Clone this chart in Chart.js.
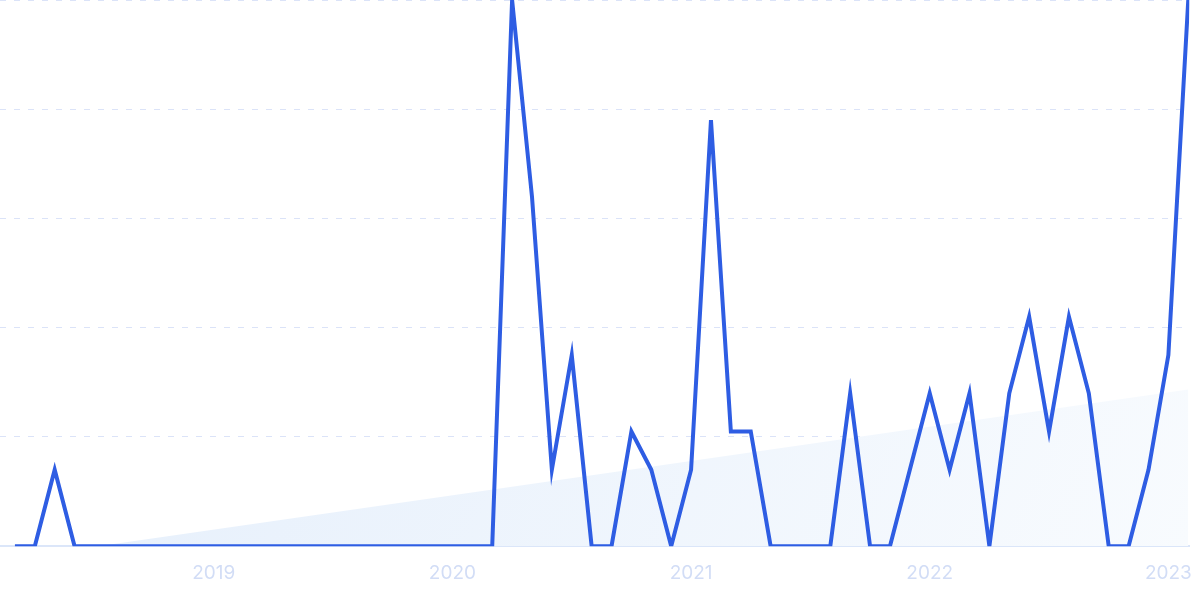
<!DOCTYPE html>
<html>
<head>
<meta charset="utf-8">
<script src="https://cdn.jsdelivr.net/npm/chart.js@4/dist/chart.umd.min.js"></script>
<style>
  html, body { margin: 0; padding: 0; background: #fff; }
  #wrap { width: 1200px; height: 599px; }
</style>
</head>
<body>
<div id="wrap"><canvas id="myChart"></canvas></div>
<script>
// monthly values, Mar 2018 .. Feb 2023
const months = [
  '2018-03','2018-04','2018-05','2018-06','2018-07','2018-08','2018-09','2018-10','2018-11','2018-12',
  '2019-01','2019-02','2019-03','2019-04','2019-05','2019-06','2019-07','2019-08','2019-09','2019-10','2019-11','2019-12',
  '2020-01','2020-02','2020-03','2020-04','2020-05','2020-06','2020-07','2020-08','2020-09','2020-10','2020-11','2020-12',
  '2021-01','2021-02','2021-03','2021-04','2021-05','2021-06','2021-07','2021-08','2021-09','2021-10','2021-11','2021-12',
  '2022-01','2022-02','2022-03','2022-04','2022-05','2022-06','2022-07','2022-08','2022-09','2022-10','2022-11','2022-12',
  '2023-01','2023-02'
];
const values = [
  0, 0, 14, 0, 0, 0, 0, 0, 0, 0,
  0, 0, 0, 0, 0, 0, 0, 0, 0, 0, 0, 0,
  0, 0, 0, 100, 64, 14, 35, 0, 0, 21, 14, 0,
  14, 78, 21, 21, 0, 0, 0, 0, 28, 0, 0, 14,
  28, 14, 28, 0, 28, 42, 21, 42, 28, 0, 0, 14,
  35, 100
];
// trend line (start / end)
const trendMonths = ['2018-03', '2023-02'];
const trendValues = [-2.2, 28.7];
const yearTicks = ['2019', '2020', '2021', '2022', '2023'];

// month string -> months since Jan 2018
function monthIndex(m) {
  const p = m.split('-');
  return (parseInt(p[0]) - 2018) * 12 + parseInt(p[1]) - 1;
}

const mainData = months.map((m, i) => ({ x: monthIndex(m), y: values[i] }));
const trendData = trendMonths.map((m, i) => ({ x: monthIndex(m), y: trendValues[i] }));

const ctx = document.getElementById('myChart').getContext('2d');

function trendFill(context) {
  const area = context.chart.chartArea;
  if (!area) return 'rgba(228,239,252,0.8)';
  const g = context.chart.ctx.createLinearGradient(area.left, area.top, area.right, area.bottom);
  g.addColorStop(0, '#e2edfb');
  g.addColorStop(1, '#f8fbfe');
  return g;
}

new Chart(ctx, {
  type: 'line',
  data: {
    datasets: [{
      data: mainData,
      borderColor: '#2e5de3',
      borderWidth: 4,
      pointRadius: 0,
      tension: 0,
      fill: false,
      order: 0
    }, {
      data: trendData,
      borderWidth: 0,
      borderColor: 'rgba(0,0,0,0)',
      backgroundColor: trendFill,
      pointRadius: 0,
      fill: 'start',
      order: 1
    }]
  },
  options: {
    responsive: true,
    maintainAspectRatio: false,
    animation: false,
    layout: { padding: { left: 0, right: 10, top: 0, bottom: 6 } },
    plugins: {
      legend: { display: false },
      tooltip: { enabled: false }
    },
    scales: {
      x: {
        type: 'linear',
        min: 1.25,
        max: 61.05,
        afterBuildTicks: (scale) => {
          scale.ticks = yearTicks.map(y => ({ value: (parseInt(y) - 2018) * 12 }));
        },
        ticks: {
          autoSkip: false,
          maxRotation: 0,
          color: '#d2ddf6',
          font: { family: 'Inter', size: 19 },
          padding: 8,
          callback: (v) => String(2018 + v / 12)
        },
        grid: { display: false },
        border: { display: true, color: '#dbe6f9', width: 2 }
      },
      y: {
        min: 0,
        max: 100,
        display: true,
        ticks: { display: false, stepSize: 20 },
        grid: {
          color: (c) => c.tick.value === 0 ? 'rgba(0,0,0,0)' : '#dbe3f8',
          lineWidth: 1,
          drawTicks: false
        },
        border: { display: false, dash: [6, 8] }
      }
    }
  }
});
</script>
</body>
</html>
